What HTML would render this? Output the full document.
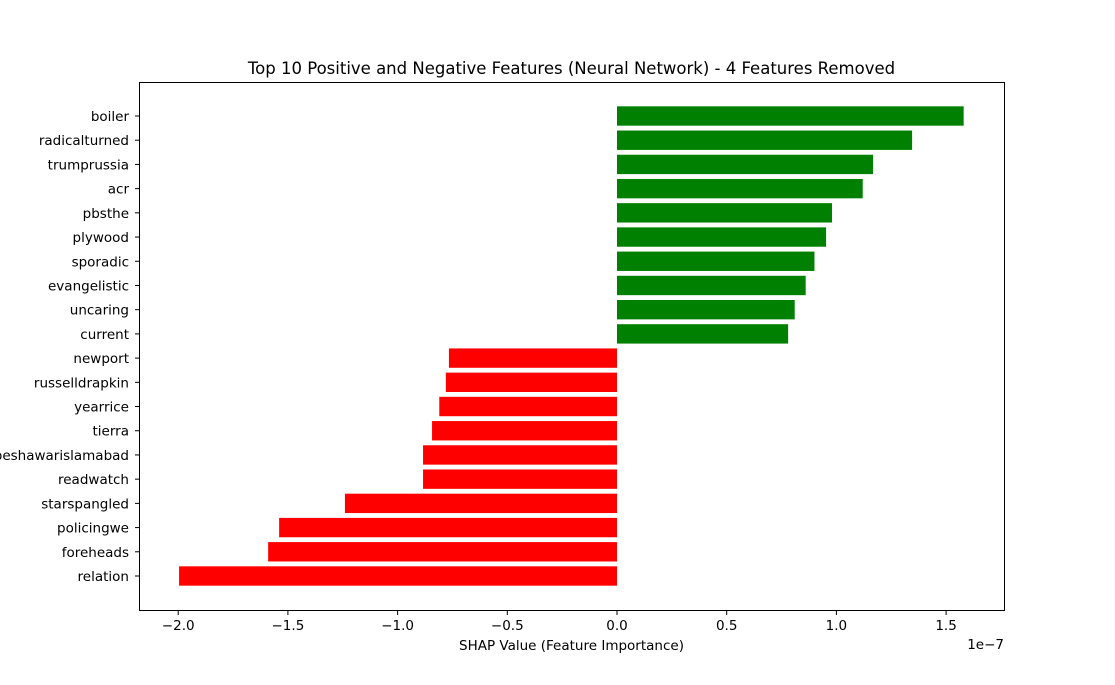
<!DOCTYPE html>
<html><head><meta charset="utf-8"><style>
body{margin:0;background:#fff}
svg{display:block;font-family:"DejaVu Sans","Liberation Sans",sans-serif}
</style></head><body>
<svg id="chart" width="1115" height="685">
<rect width="1115" height="685" fill="#fff"/>
<text x="571.5" y="74" text-anchor="middle" font-size="16.5">Top 10 Positive and Negative Features (Neural Network) - 4 Features Removed</text>
<g id="bars"></g>
<g id="xticks"></g>
<g id="yticks"></g>
<rect x="139.5" y="82.5" width="865" height="528" fill="none" stroke="#000" stroke-width="1"/>
<text x="571.5" y="650" text-anchor="middle" font-size="13.5">SHAP Value (Feature Importance)</text>
<text x="1004" y="649" text-anchor="end" font-size="13.5">1e−7</text>
</svg>
<script>
const categories=["boiler","radicalturned","trumprussia","acr","pbsthe","plywood","sporadic","evangelistic","uncaring","current","newport","russelldrapkin","yearrice","tierra","peshawarislamabad","readwatch","starspangled","policingwe","foreheads","relation"];
const values=[1.58,1.345,1.167,1.12,0.98,0.953,0.90,0.86,0.81,0.78,-0.766,-0.78,-0.81,-0.843,-0.884,-0.884,-1.24,-1.54,-1.59,-1.996];
const xTicks=[-2.0,-1.5,-1.0,-0.5,0.0,0.5,1.0,1.5];
const xTickLabels=["−2.0","−1.5","−1.0","−0.5","0.0","0.5","1.0","1.5"];
const NS="http://www.w3.org/2000/svg";
const x=v=>617+v*219.4;
const n=categories.length;
const y=i=>116+i*(460/(n-1));
const bh=0.8*(460/(n-1));
const bars=document.getElementById('bars'),xt=document.getElementById('xticks'),yt=document.getElementById('yticks');
values.forEach((v,i)=>{
 const r=document.createElementNS(NS,'rect');
 r.setAttribute('x',Math.min(x(0),x(v)));r.setAttribute('width',Math.abs(x(v)-x(0)));
 r.setAttribute('y',y(i)-bh/2);r.setAttribute('height',bh);
 r.setAttribute('fill',v>=0?'#008000':'#ff0000');
 
 
 bars.appendChild(r);
 const l=document.createElementNS(NS,'line');
 l.setAttribute('x1',139.5);l.setAttribute('x2',135);l.setAttribute('y1',y(i));l.setAttribute('y2',y(i));l.setAttribute('stroke','#000');
 yt.appendChild(l);
 const t=document.createElementNS(NS,'text');
 t.setAttribute('x',129);t.setAttribute('y',y(i)+5);t.setAttribute('text-anchor','end');t.setAttribute('font-size','13.5');
 t.textContent=categories[i];
 
 
 yt.appendChild(t);
});
xTicks.forEach((v,i)=>{
 const l=document.createElementNS(NS,'line');
 l.setAttribute('x1',x(v));l.setAttribute('x2',x(v));l.setAttribute('y1',610.5);l.setAttribute('y2',615);l.setAttribute('stroke','#000');
 xt.appendChild(l);
 const t=document.createElementNS(NS,'text');
 t.setAttribute('x',x(v));t.setAttribute('y',630);t.setAttribute('text-anchor','middle');t.setAttribute('font-size','13.5');
 t.textContent=xTickLabels[i];
 
 
 xt.appendChild(t);
});
</script>
</body></html>
